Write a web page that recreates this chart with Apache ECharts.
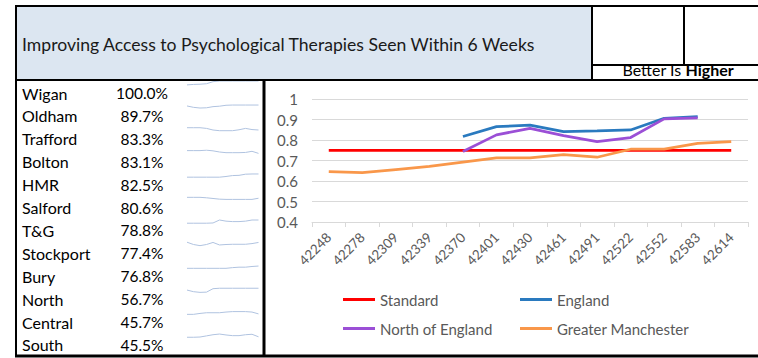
<!DOCTYPE html>
<html>
<head>
<meta charset="utf-8">
<script src="https://cdn.jsdelivr.net/npm/echarts@6/dist/echarts.min.js"></script>
<style>
  html, body { margin: 0; padding: 0; background: #ffffff; }
  #chart { width: 758px; height: 358px; }
</style>
</head>
<body>
<div id="chart"></div>
<script>
// Month keys (Excel serial dates) along the category axis
const months = ['42248', '42278', '42309', '42339', '42370', '42401', '42430',
                '42461', '42491', '42522', '42552', '42583', '42614'];
const yTicks = [0.4, 0.5, 0.6, 0.7, 0.8, 0.9, 1];

// Proportion seen within 6 weeks
const standard = [0.75, 0.75, 0.75, 0.75, 0.75, 0.75, 0.75, 0.75, 0.75, 0.75, 0.75, 0.75, 0.75];
const england = [null, null, null, null, 0.817, 0.865, 0.873, 0.841, 0.844, 0.849, 0.906, 0.914, null];
const northOfEngland = [null, null, null, null, 0.744, 0.825, 0.857, 0.821, 0.792, 0.812, 0.903, 0.908, null];
const greaterManchester = [0.646, 0.641, 0.656, 0.671, 0.692, 0.713, 0.713, 0.729, 0.716, 0.755, 0.755, 0.784, 0.792];

// Ranked areas with their latest rate (%)
const areas = ['Wigan', 'Oldham', 'Trafford', 'Bolton', 'HMR', 'Salford',
               'T&G', 'Stockport', 'Bury', 'North', 'Central', 'South'];
const rates = [100.0, 89.7, 83.3, 83.1, 82.5, 80.6, 78.8, 77.4, 76.8, 56.7, 45.7, 45.5];

// Sparkline trends for each area
const trendWigan     = [0.83, 0.85, 0.86, 0.88, 0.97, 1, 1, 1, 1, 1, 1, 1];
const trendOldham    = [0.91, 0.85, 0.82, 0.83, 0.88, 0.90, 0.94, 0.95, 0.95, 0.95, 0.95, 0.95];
const trendTrafford  = [0.96, 0.96, 0.96, 0.93, 0.86, 0.83, 0.83, 0.83, 0.87, 0.93, 0.88, 0.86];
const trendBolton    = [0.96, 0.96, 0.96, 0.98, 0.95, 0.90, 0.87, 0.87, 0.87, 0.88, 0.93, 0.84];
const trendHMR       = [0.80, 0.80, 0.80, 0.80, 0.80, 0.80, 0.83, 0.87, 0.88, 0.93, 0.94, 0.94];
const trendSalford   = [0.92, 0.92, 0.92, 0.90, 0.87, 0.84, 0.83, 0.83, 0.83, 0.83, 0.83, 0.88];
const trendTG        = [0.79, 0.79, 0.79, 0.79, 0.80, 0.93, 0.88, 0.86, 0.86, 0.88, 0.93, 0.93];
const trendStockport = [0.96, 0.86, 0.81, 0.86, 0.95, 0.84, 0.86, 0.87, 0.87, 0.87, 0.90, 0.95];
const trendBury      = [0.82, 0.82, 0.82, 0.82, 0.82, 0.82, 0.82, 0.85, 0.87, 0.87, 0.90, 0.92];
const trendNorth     = [0.87, 0.80, 0.77, 0.78, 0.93, 0.95, 0.95, 0.95, 0.95, 0.95, 0.95, 0.95];
const trendCentral   = [0.81, 0.81, 0.85, 0.88, 0.88, 0.88, 0.91, 0.93, 0.93, 0.93, 0.91, 0.83];
const trendSouth     = [0.81, 0.81, 0.82, 0.87, 0.92, 0.95, 0.91, 0.88, 0.88, 0.92, 0.94, 0.83];
const trends = [trendWigan, trendOldham, trendTrafford, trendBolton, trendHMR, trendSalford,
                trendTG, trendStockport, trendBury, trendNorth, trendCentral, trendSouth];

const FONT = 'Lato, "Open Sans", sans-serif';
const chart = echarts.init(document.getElementById('chart'), null, { renderer: 'svg' });

// Table geometry
const rowTop0 = 81, rowH = 22.9;

// Main trend chart grid + one tiny grid per sparkline
const grids = [{ left: 312, right: 10, top: 99, bottom: 136 }];
const xAxes = [{
  type: 'category', gridIndex: 0, data: months, boundaryGap: true,
  axisLine: { lineStyle: { color: '#d9d9d9' } },
  axisTick: { show: true, length: 5, lineStyle: { color: '#d9d9d9' } },
  axisLabel: { rotate: 45, margin: 13, fontSize: 13.5, color: '#595959', fontFamily: FONT, interval: 0 }
}];
const yAxes = [{
  type: 'value', gridIndex: 0, min: yTicks[0], max: yTicks[yTicks.length - 1], interval: 0.1,
  axisLine: { show: false }, axisTick: { show: false },
  splitLine: { lineStyle: { color: '#d9d9d9' } },
  axisLabel: { margin: 14, fontSize: 15, color: '#595959', fontFamily: FONT,
               formatter: v => String(Math.round(v * 10) / 10) }
}];
const series = [
  { name: 'Standard', type: 'line', data: standard, color: '#ff0000' },
  { name: 'England', type: 'line', data: england, color: '#2a7abf' },
  { name: 'North of England', type: 'line', data: northOfEngland, color: '#9b4fd6' },
  { name: 'Greater Manchester', type: 'line', data: greaterManchester, color: '#f9974a' }
].map(s => Object.assign({ symbol: 'none', lineStyle: { width: 2.75 }, z: 3 }, s));

trends.forEach((t, i) => {
  const gi = i + 1;
  grids.push({ left: 187, width: 71.5, top: rowTop0 + rowH * i, height: rowH });
  xAxes.push({ type: 'category', gridIndex: gi, boundaryGap: false, data: t.map((_, k) => k), show: false });
  yAxes.push({ type: 'value', gridIndex: gi, min: 0, max: 1, show: false });
  series.push({ type: 'line', xAxisIndex: gi, yAxisIndex: gi, data: t, symbol: 'none',
                lineStyle: { width: 1, color: '#b0c3e0' }, silent: true, z: 1 });
});

// Frame, header and table text
const line = (x1, y1, x2, y2, w) => ({
  type: 'line', z: 100, silent: true,
  shape: { x1, y1, x2, y2 }, style: { stroke: '#000000', lineWidth: w }
});
const graphic = [
  { type: 'rect', z: 0, silent: true, shape: { x: 17, y: 7, width: 575, height: 72 }, style: { fill: '#dce6f1' } },
  line(15, 6, 758, 6, 2),
  line(16, 5, 16, 357, 2),
  line(15, 80, 758, 80, 2),
  line(592, 5, 592, 80, 2),
  line(684, 5, 684, 65, 2),
  line(592, 65, 758, 65, 2),
  line(264, 80, 264, 357, 3),
  line(15, 356, 758, 356, 3),
  { type: 'text', z: 101, x: 22, y: 44, silent: true,
    style: { text: 'Improving Access to Psychological Therapies Seen Within 6 Weeks',
             fontSize: 17.6, fontFamily: FONT, fill: '#1a1a1a', align: 'left', verticalAlign: 'middle' } },
  { type: 'text', z: 101, x: 678, y: 69.5, silent: true,
    style: { text: '{n|Better Is }{b|Higher}', align: 'center', verticalAlign: 'middle',
             rich: { n: { fontSize: 16, lineHeight: 16, fontFamily: FONT, fill: '#000000', verticalAlign: 'middle' },
                     b: { fontSize: 16, lineHeight: 16, fontFamily: FONT, fontWeight: 'bold', fill: '#000000', verticalAlign: 'middle' } } } }
];
areas.forEach((name, i) => {
  const cy = rowTop0 + 12 + rowH * i;
  graphic.push({ type: 'text', z: 101, x: 22, y: cy, silent: true,
    style: { text: name, fontSize: 16, fontFamily: FONT, fill: '#000000', align: 'left', verticalAlign: 'middle' } });
  graphic.push({ type: 'text', z: 101, x: 142, y: cy, silent: true,
    style: { text: rates[i].toFixed(1) + '%', fontSize: 15.5, fontFamily: FONT, fill: '#000000', align: 'center', verticalAlign: 'middle' } });
});

// One legend per entry so each sits in its own column
const legendPos = [[343, 292], [520, 292], [343, 321], [520, 321]];
const legends = ['Standard', 'England', 'North of England', 'Greater Manchester'].map((n, i) => ({
  data: [n], left: legendPos[i][0], top: legendPos[i][1], padding: 0,
  icon: 'rect', itemWidth: 32, itemHeight: 3, selectedMode: false,
  textStyle: { fontSize: 15, color: '#595959', fontFamily: FONT }
}));

chart.setOption({
  animation: false,
  backgroundColor: '#ffffff',
  grid: grids,
  xAxis: xAxes,
  yAxis: yAxes,
  legend: legends,
  series: series,
  graphic: graphic
});
</script>
</body>
</html>
